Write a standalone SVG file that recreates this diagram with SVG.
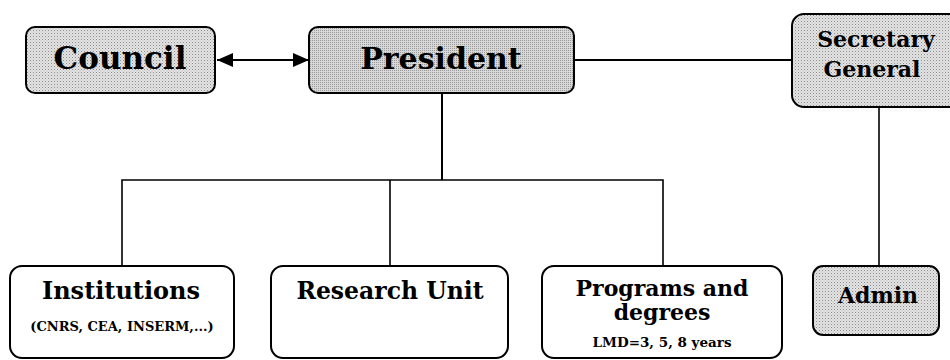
<svg xmlns="http://www.w3.org/2000/svg" width="950" height="360" viewBox="0 0 950 360">
<defs>
<pattern id="dots" width="3" height="3" patternUnits="userSpaceOnUse">
<rect width="3" height="3" fill="#e4e4e4"/>
<rect width="1" height="1" fill="#8a8a8a"/>
<rect x="1.5" y="1.5" width="1" height="1" fill="#b0b0b0"/>
</pattern>
<pattern id="dots2" width="2" height="2" patternUnits="userSpaceOnUse">
<rect width="2" height="2" fill="#d8d8d8"/>
<rect width="1" height="1" fill="#9a9a9a"/>
</pattern>
<marker id="ah" viewBox="0 0 16 14" refX="16" refY="7" markerWidth="16" markerHeight="14" markerUnits="userSpaceOnUse" orient="auto-start-reverse">
<path d="M0,0 L16,7 L0,14 z" fill="#000"/>
</marker>
</defs>
<style>
.w{fill:#fff;stroke:#000;stroke-width:2}
.g{fill:url(#dots);stroke:#000;stroke-width:2}
.g2{fill:url(#dots2);stroke:#000;stroke-width:2}
text{font-family:"DejaVu Serif","Liberation Serif",serif;font-weight:bold;fill:#000;text-anchor:middle}
.big{font-size:30px}
.mid{font-size:22px}
.ln{fill:none;stroke:#000;stroke-width:2}
.ln2{fill:none;stroke:#000;stroke-width:1.6}
</style>
<g id="connectors">
<line class="ln" x1="217" y1="60" x2="309" y2="60" marker-start="url(#ah)" marker-end="url(#ah)"/>
<line class="ln" x1="574" y1="60" x2="792" y2="60"/>
<line class="ln" x1="442" y1="93" x2="442" y2="180"/>
<polyline class="ln2" points="122,266 122,180 663,180 663,266"/>
<line class="ln2" x1="390" y1="180" x2="390" y2="266"/>
<line class="ln2" x1="879" y1="107" x2="879" y2="266"/>
</g>
<g id="council">
<rect class="g" x="26" y="27" width="189" height="66" rx="9"/>
<text style="font-size:31px" x="120" y="69">Council</text>
</g>
<g id="president">
<rect class="g2" x="309" y="27" width="265" height="66" rx="9"/>
<text class="big" x="441" y="69">President</text>
</g>
<g id="secretary">
<rect class="g" x="792" y="14" width="175" height="93" rx="12"/>
<text class="mid" x="876" y="47">Secretary</text>
<text class="mid" x="872" y="77">General</text>
</g>
<g id="admin">
<rect class="g" x="813" y="266" width="126" height="69" rx="10"/>
<text class="mid" x="878" y="303">Admin</text>
</g>
<g id="institutions">
<rect class="w" x="10" y="266" width="224" height="92" rx="12"/>
<text style="font-size:24px" x="121" y="299">Institutions</text>
<text style="font-size:13px" x="122" y="331">(CNRS, CEA, INSERM,...)</text>
</g>
<g id="research">
<rect class="w" x="271" y="266" width="237" height="92" rx="12"/>
<text style="font-size:23.5px" x="390" y="299">Research Unit</text>
</g>
<g id="programs">
<rect class="w" x="542" y="266" width="240" height="92" rx="12"/>
<text class="mid" x="662" y="296">Programs and</text>
<text class="mid" x="662" y="320">degrees</text>
<text style="font-size:13.5px" x="662" y="347">LMD=3, 5, 8 years</text>
</g>
</svg>
